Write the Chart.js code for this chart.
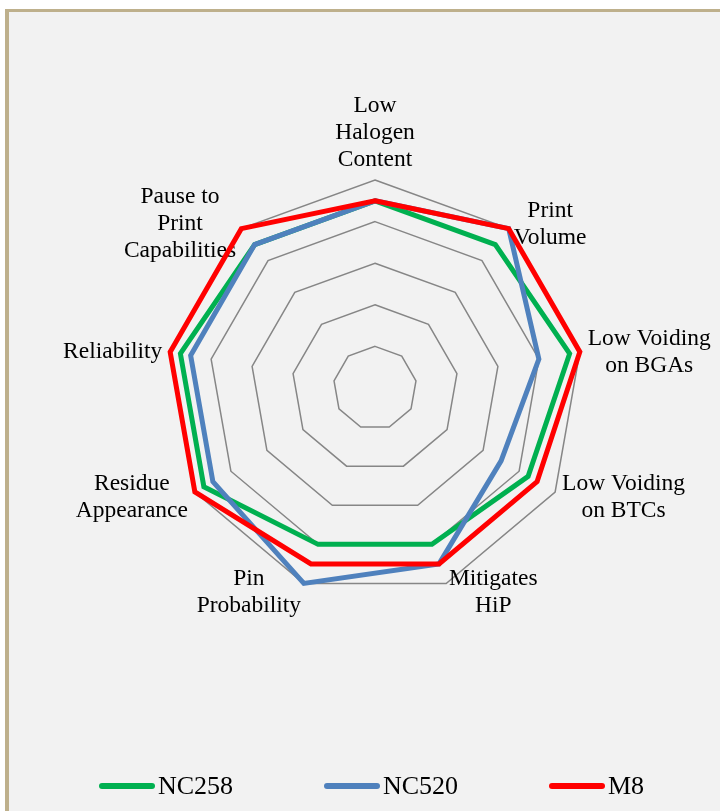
<!DOCTYPE html>
<html>
<head>
<meta charset="utf-8">
<script src="https://cdn.jsdelivr.net/npm/chart.js@4.4.1/dist/chart.umd.min.js"></script>
<style>
  html, body { margin: 0; padding: 0; background: #ffffff; }
  body { width: 720px; height: 811px; position: relative; overflow: hidden; }
  #panel {
    position: absolute; left: 5px; top: 9px; right: 0; bottom: 0;
    background: #f2f2f2;
    border-left: 4px solid #beb08c;
    border-top: 3px solid #beb08c;
  }
  #radar { position: absolute; left: 0; top: 0; }
  .legend-item {
    position: absolute; top: 771px; height: 30px;
    display: flex; align-items: center;
    font-family: "Liberation Serif", "Times New Roman", serif;
    font-size: 26px; line-height: 30px; color: #000;
  }
  .legend-line { width: 56px; height: 6px; border-radius: 3px; margin-right: 3px; }
</style>
</head>
<body>
<div id="panel"></div>
<canvas id="radar" width="720" height="811"></canvas>
<div id="legend"></div>

<script>
// categories (each entry = lines of the axis label)
const categories = [
    ['Low', 'Halogen', 'Content'],
    ['Print', 'Volume'],
    ['Low Voiding', 'on BGAs'],
    ['Low Voiding', 'on BTCs'],
    ['Mitigates', 'HiP'],
    ['Pin', 'Probability'],
    ['Residue', 'Appearance'],
    ['Reliability'],
    ['Pause to', 'Print', 'Capabilities']
];

// series values (scale 0..5)
const nc258 = [4.5, 4.5, 4.75, 4.25, 4, 4, 4.75, 4.75, 4.5];
const nc520 = [4.5, 5, 4, 3.5, 4.5, 5, 4.5, 4.5, 4.5];
const m8    = [4.5, 5, 5, 4.5, 4.5, 4.5, 5, 5, 5];

const seriesNames = ['NC258', 'NC520', 'M8'];
const seriesColors = ['#00b050', '#4f81bd', '#ff0000'];

const LABEL_GAP = 8;
const LINE_H = 27;

// Axis labels drawn Excel-style: block hugs the outer vertex
const axisLabels = {
    id: 'axisLabels',
    beforeDatasetsDraw(chart) {
        const scale = chart.scales.r;
        const ctx = chart.ctx;
        ctx.save();
        ctx.font = '23.5px "Liberation Serif", "Times New Roman", serif';
        ctx.fillStyle = '#000000';
        ctx.textAlign = 'center';
        ctx.textBaseline = 'middle';
        chart.data.labels.forEach((lines, i) => {
            const p = scale.getPointPosition(i, scale.drawingArea + LABEL_GAP);
            const a = scale.getIndexAngle(i);
            const dx = Math.sin(a), dy = -Math.cos(a);
            const w = Math.max(...lines.map(t => ctx.measureText(t).width));
            const h = lines.length * LINE_H;
            let cx, cy;
            if (Math.abs(dx) < 0.05) {
                cx = p.x;
                cy = dy < 0 ? p.y - h / 2 : p.y + h / 2;
            } else {
                cx = dx > 0 ? p.x + w / 2 : p.x - w / 2;
                cy = p.y;
            }
            lines.forEach((t, k) => {
                ctx.fillText(t, cx, cy - h / 2 + LINE_H * (k + 0.5) + 1.5);
            });
        });
        ctx.restore();
    }
};

const datasets = [nc258, nc520, m8].map((vals, i) => ({
    label: seriesNames[i],
    data: vals,
    borderColor: seriesColors[i],
    backgroundColor: seriesColors[i],
    borderWidth: 5,
    borderJoinStyle: 'miter',
    pointRadius: 0,
    pointHoverRadius: 0,
    fill: false,
    order: 3 - i   // M8 drawn on top
}));

new Chart(document.getElementById('radar'), {
    type: 'radar',
    data: { labels: categories, datasets: datasets },
    options: {
        responsive: false,
        animation: false,
        layout: { padding: { left: 167, right: 136, top: 180, bottom: 214 } },
        scales: {
            r: {
                min: 0,
                max: 5,
                ticks: { display: false, stepSize: 1 },
                grid: { color: '#868686', lineWidth: 1.5, circular: false },
                angleLines: { display: false },
                pointLabels: { display: false }
            }
        },
        plugins: {
            legend: { display: false },
            tooltip: { enabled: false }
        }
    },
    plugins: [axisLabels]
});

// legend with fixed slots like the original
const legendLeft = [99, 324, 549];
const legendDiv = document.getElementById('legend');
seriesNames.forEach((name, i) => {
    const item = document.createElement('div');
    item.className = 'legend-item';
    item.style.left = legendLeft[i] + 'px';
    item.innerHTML = `<span class="legend-line" style="background:${seriesColors[i]}"></span><span>${name}</span>`;
    legendDiv.appendChild(item);
});
</script>
</body>
</html>
